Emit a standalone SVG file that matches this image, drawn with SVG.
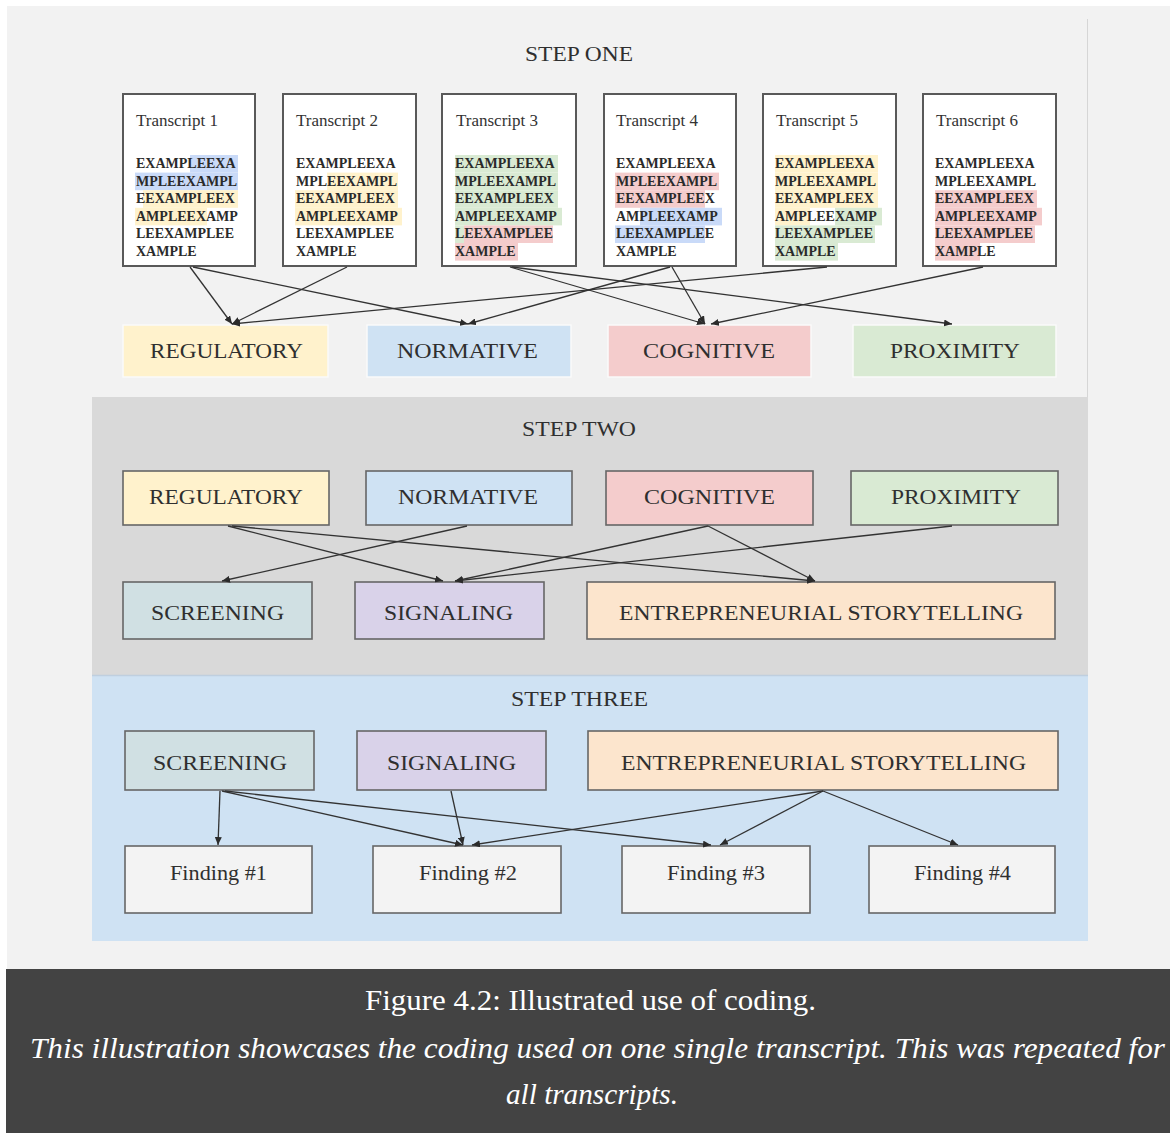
<svg xmlns="http://www.w3.org/2000/svg" width="1170" height="1133" viewBox="0 0 1170 1133">
  <defs>
    <marker id="arrow" markerUnits="userSpaceOnUse" markerWidth="9" markerHeight="7" refX="8" refY="3.5" orient="auto">
      <path d="M0,0 L8,3.5 L0,7 z" fill="#2b2b2b"/>
    </marker>
    <style>
      .lbl { font-family: "Liberation Serif", "Times New Roman", serif; font-size: 21px; fill: #2f2f2f; text-anchor: middle; }
      .head { font-family: "Liberation Serif", "Times New Roman", serif; font-size: 20px; fill: #2f2f2f; text-anchor: middle; }
      .find { font-family: "Liberation Serif", "Times New Roman", serif; font-size: 20px; fill: #2f2f2f; text-anchor: middle; }
      .ttl { font-family: "Liberation Serif", "Times New Roman", serif; font-size: 17px; fill: #333; }
      .code { font-family: "Liberation Serif", "Times New Roman", serif; font-size: 14px; font-weight: bold; fill: #2a2a2a; }
      .doc { fill: #ffffff; stroke: #595959; stroke-width: 2; }
      .box { stroke: #666666; stroke-width: 1.6; }
      .flat { stroke: #fafafa; stroke-width: 1.5; }
      .reg { fill: #fff2cc; } .norm { fill: #cfe2f3; } .cog { fill: #f4cccc; } .prox { fill: #d9ead3; }
      .scr { fill: #d0e0e3; } .sig { fill: #d9d2e9; } .ent { fill: #fce5cd; } .fnd { fill: #f3f3f3; }
      .hB { fill: #c9daf8; } .hY { fill: #fff2cc; } .hG { fill: #d9ead3; } .hP { fill: #f4cccc; }
      .conn line { stroke: #333333; stroke-width: 1.3; fill: none; marker-end: url(#arrow); }
      .cap { font-family: "Liberation Serif", "Times New Roman", serif; font-size: 30px; fill: #ffffff; text-anchor: middle; }
    </style>
  </defs>

  <!-- page and step panels -->
  <rect x="0" y="0" width="1170" height="1133" fill="#ffffff"/>
  <rect x="7" y="6" width="1163" height="963" fill="#f2f2f2"/>
  <line x1="1087.5" y1="19" x2="1087.5" y2="397" stroke="#d6d6d6" stroke-width="1"/>
  <rect x="92" y="397" width="996" height="278" fill="#d9d9d9"/>
  <rect x="92" y="675" width="996" height="266" fill="#cfe2f3"/>
  <line x1="92" y1="675.5" x2="1088" y2="675.5" stroke="#bfcfdf" stroke-width="1.5"/>

  <text class="head" x="579" y="61" textLength="108" lengthAdjust="spacingAndGlyphs">STEP ONE</text>
  <text class="head" x="579" y="436" textLength="114" lengthAdjust="spacingAndGlyphs">STEP TWO</text>
  <text class="head" x="579.5" y="706" textLength="137" lengthAdjust="spacingAndGlyphs">STEP THREE</text>

  <!-- Step one: transcripts with coded highlights -->
  <g id="transcript1">
    <rect class="doc" x="123" y="94" width="132" height="172"/>
    <rect class="hB" x="190" y="155" width="48" height="17.6"/>
    <rect class="hB" x="135" y="172.6" width="103" height="17.6"/>
    <rect class="hY" x="143" y="190.2" width="95" height="17.6"/>
    <rect class="hY" x="135" y="207.8" width="72" height="17.6"/>
    <text class="ttl" x="136" y="126">Transcript 1</text>
    <text class="code" x="136" y="168">EXAMPLEEXA</text>
    <text class="code" x="136" y="185.6">MPLEEXAMPL</text>
    <text class="code" x="136" y="203.2">EEXAMPLEEX</text>
    <text class="code" x="136" y="220.8">AMPLEEXAMP</text>
    <text class="code" x="136" y="238.4">LEEXAMPLEE</text>
    <text class="code" x="136" y="256">XAMPLE</text>
  </g>
  <g id="transcript2">
    <rect class="doc" x="283" y="94" width="133" height="172"/>
    <rect class="hY" x="327" y="172.6" width="71" height="17.6"/>
    <rect class="hY" x="295" y="190.2" width="103" height="17.6"/>
    <rect class="hY" x="295" y="207.8" width="107" height="17.6"/>
    <text class="ttl" x="296" y="126">Transcript 2</text>
    <text class="code" x="296" y="168">EXAMPLEEXA</text>
    <text class="code" x="296" y="185.6">MPLEEXAMPL</text>
    <text class="code" x="296" y="203.2">EEXAMPLEEX</text>
    <text class="code" x="296" y="220.8">AMPLEEXAMP</text>
    <text class="code" x="296" y="238.4">LEEXAMPLEE</text>
    <text class="code" x="296" y="256">XAMPLE</text>
  </g>
  <g id="transcript3">
    <rect class="doc" x="442" y="94" width="134" height="172"/>
    <rect class="hG" x="455" y="155" width="103" height="17.6"/>
    <rect class="hG" x="455" y="172.6" width="103" height="17.6"/>
    <rect class="hG" x="455" y="190.2" width="103" height="17.6"/>
    <rect class="hG" x="455" y="207.8" width="107" height="17.6"/>
    <rect class="hG" x="455" y="225.4" width="9" height="17.6"/>
    <rect class="hP" x="464" y="225.4" width="89" height="17.6"/>
    <rect class="hP" x="455" y="243" width="63" height="17.6"/>
    <text class="ttl" x="456" y="126">Transcript 3</text>
    <text class="code" x="455" y="168">EXAMPLEEXA</text>
    <text class="code" x="455" y="185.6">MPLEEXAMPL</text>
    <text class="code" x="455" y="203.2">EEXAMPLEEX</text>
    <text class="code" x="455" y="220.8">AMPLEEXAMP</text>
    <text class="code" x="455" y="238.4">LEEXAMPLEE</text>
    <text class="code" x="455" y="256">XAMPLE</text>
  </g>
  <g id="transcript4">
    <rect class="doc" x="604" y="94" width="132" height="172"/>
    <rect class="hP" x="615" y="172.6" width="104" height="17.6"/>
    <rect class="hP" x="615" y="190.2" width="90" height="17.6"/>
    <rect class="hB" x="640" y="207.8" width="82" height="17.6"/>
    <rect class="hB" x="615" y="225.4" width="90" height="17.6"/>
    <text class="ttl" x="616" y="126">Transcript 4</text>
    <text class="code" x="616" y="168">EXAMPLEEXA</text>
    <text class="code" x="616" y="185.6">MPLEEXAMPL</text>
    <text class="code" x="616" y="203.2">EEXAMPLEEX</text>
    <text class="code" x="616" y="220.8">AMPLEEXAMP</text>
    <text class="code" x="616" y="238.4">LEEXAMPLEE</text>
    <text class="code" x="616" y="256">XAMPLE</text>
  </g>
  <g id="transcript5">
    <rect class="doc" x="763" y="94" width="133" height="172"/>
    <rect class="hY" x="775" y="155" width="103" height="17.6"/>
    <rect class="hY" x="775" y="172.6" width="103" height="17.6"/>
    <rect class="hY" x="775" y="190.2" width="103" height="17.6"/>
    <rect class="hY" x="775" y="207.8" width="35" height="17.6"/>
    <rect class="hG" x="835" y="207.8" width="47" height="17.6"/>
    <rect class="hG" x="775" y="225.4" width="100" height="17.6"/>
    <rect class="hG" x="775" y="243" width="63" height="17.6"/>
    <text class="ttl" x="776" y="126">Transcript 5</text>
    <text class="code" x="775" y="168">EXAMPLEEXA</text>
    <text class="code" x="775" y="185.6">MPLEEXAMPL</text>
    <text class="code" x="775" y="203.2">EEXAMPLEEX</text>
    <text class="code" x="775" y="220.8">AMPLEEXAMP</text>
    <text class="code" x="775" y="238.4">LEEXAMPLEE</text>
    <text class="code" x="775" y="256">XAMPLE</text>
  </g>
  <g id="transcript6">
    <rect class="doc" x="923" y="94" width="133" height="172"/>
    <rect class="hP" x="935" y="190.2" width="102" height="17.6"/>
    <rect class="hP" x="935" y="207.8" width="107" height="17.6"/>
    <rect class="hP" x="935" y="225.4" width="100" height="17.6"/>
    <rect class="hP" x="935" y="243" width="45" height="17.6"/>
    <text class="ttl" x="936" y="126">Transcript 6</text>
    <text class="code" x="935" y="168">EXAMPLEEXA</text>
    <text class="code" x="935" y="185.6">MPLEEXAMPL</text>
    <text class="code" x="935" y="203.2">EEXAMPLEEX</text>
    <text class="code" x="935" y="220.8">AMPLEEXAMP</text>
    <text class="code" x="935" y="238.4">LEEXAMPLEE</text>
    <text class="code" x="935" y="256">XAMPLE</text>
  </g>

  <!-- Step one: code categories -->
  <g id="s1-regulatory">
    <rect class="flat reg" x="123" y="325" width="205" height="52"/>
    <text class="lbl" x="226.5" y="358" textLength="153" lengthAdjust="spacingAndGlyphs">REGULATORY</text>
  </g>
  <g id="s1-normative">
    <rect class="flat norm" x="367" y="325" width="204" height="52"/>
    <text class="lbl" x="467.5" y="358" textLength="141" lengthAdjust="spacingAndGlyphs">NORMATIVE</text>
  </g>
  <g id="s1-cognitive">
    <rect class="flat cog" x="608" y="325" width="203" height="52"/>
    <text class="lbl" x="709" y="358" textLength="132" lengthAdjust="spacingAndGlyphs">COGNITIVE</text>
  </g>
  <g id="s1-proximity">
    <rect class="flat prox" x="853" y="325" width="203" height="52"/>
    <text class="lbl" x="955" y="358" textLength="130" lengthAdjust="spacingAndGlyphs">PROXIMITY</text>
  </g>

  <!-- Step two -->
  <g id="s2-regulatory">
    <rect class="box reg" x="123" y="471" width="206" height="54"/>
    <text class="lbl" x="226" y="504" textLength="154" lengthAdjust="spacingAndGlyphs">REGULATORY</text>
  </g>
  <g id="s2-normative">
    <rect class="box norm" x="366" y="471" width="206" height="54"/>
    <text class="lbl" x="468" y="504" textLength="140" lengthAdjust="spacingAndGlyphs">NORMATIVE</text>
  </g>
  <g id="s2-cognitive">
    <rect class="box cog" x="606" y="471" width="207" height="54"/>
    <text class="lbl" x="709.5" y="504" textLength="131" lengthAdjust="spacingAndGlyphs">COGNITIVE</text>
  </g>
  <g id="s2-proximity">
    <rect class="box prox" x="851" y="471" width="207" height="54"/>
    <text class="lbl" x="956" y="504" textLength="130" lengthAdjust="spacingAndGlyphs">PROXIMITY</text>
  </g>
  <g id="s2-screening">
    <rect class="box scr" x="123" y="582" width="189" height="57"/>
    <text class="lbl" x="217.5" y="620" textLength="133" lengthAdjust="spacingAndGlyphs">SCREENING</text>
  </g>
  <g id="s2-signaling">
    <rect class="box sig" x="355" y="582" width="189" height="57"/>
    <text class="lbl" x="448.5" y="620" textLength="129" lengthAdjust="spacingAndGlyphs">SIGNALING</text>
  </g>
  <g id="s2-storytelling">
    <rect class="box ent" x="587" y="582" width="468" height="57"/>
    <text class="lbl" x="821" y="620" textLength="404" lengthAdjust="spacingAndGlyphs">ENTREPRENEURIAL STORYTELLING</text>
  </g>

  <!-- Step three -->
  <g id="s3-screening">
    <rect class="box scr" x="125" y="731" width="189" height="59"/>
    <text class="lbl" x="220" y="770" textLength="134" lengthAdjust="spacingAndGlyphs">SCREENING</text>
  </g>
  <g id="s3-signaling">
    <rect class="box sig" x="357" y="731" width="189" height="59"/>
    <text class="lbl" x="451.5" y="770" textLength="129" lengthAdjust="spacingAndGlyphs">SIGNALING</text>
  </g>
  <g id="s3-storytelling">
    <rect class="box ent" x="588" y="731" width="470" height="59"/>
    <text class="lbl" x="823.5" y="770" textLength="405" lengthAdjust="spacingAndGlyphs">ENTREPRENEURIAL STORYTELLING</text>
  </g>
  <g id="finding1">
    <rect class="box fnd" x="125" y="846" width="187" height="67"/>
    <text class="find" x="218.5" y="880" textLength="97" lengthAdjust="spacingAndGlyphs">Finding #1</text>
  </g>
  <g id="finding2">
    <rect class="box fnd" x="373" y="846" width="188" height="67"/>
    <text class="find" x="468" y="880" textLength="98" lengthAdjust="spacingAndGlyphs">Finding #2</text>
  </g>
  <g id="finding3">
    <rect class="box fnd" x="622" y="846" width="188" height="67"/>
    <text class="find" x="716" y="880" textLength="98" lengthAdjust="spacingAndGlyphs">Finding #3</text>
  </g>
  <g id="finding4">
    <rect class="box fnd" x="869" y="846" width="186" height="67"/>
    <text class="find" x="962.5" y="880" textLength="97" lengthAdjust="spacingAndGlyphs">Finding #4</text>
  </g>

  <!-- connectors -->
  <g id="connectors" class="conn">
    <!-- transcripts to categories -->
    <line x1="190" y1="267" x2="232" y2="324"/>
    <line x1="193" y1="267" x2="468" y2="324"/>
    <line x1="347" y1="267" x2="232" y2="324"/>
    <line x1="827" y1="267" x2="232" y2="324"/>
    <line x1="670" y1="267" x2="468" y2="324"/>
    <line x1="510" y1="267" x2="705" y2="324"/>
    <line x1="512" y1="267" x2="952" y2="324"/>
    <line x1="672" y1="267" x2="705" y2="324"/>
    <line x1="983" y1="267" x2="711" y2="324"/>
    <!-- categories to mechanisms -->
    <line x1="228" y1="526" x2="443" y2="581"/>
    <line x1="232" y1="526" x2="815" y2="581"/>
    <line x1="467" y1="526" x2="222" y2="581"/>
    <line x1="708" y1="526" x2="455" y2="581"/>
    <line x1="708" y1="526" x2="815" y2="581"/>
    <line x1="952" y1="526" x2="455" y2="581"/>
    <!-- mechanisms to findings -->
    <line x1="220" y1="791" x2="218" y2="845"/>
    <line x1="222" y1="791" x2="463" y2="845"/>
    <line x1="225" y1="791" x2="711" y2="845"/>
    <line x1="451" y1="791" x2="463" y2="845"/>
    <line x1="823" y1="791" x2="472" y2="845"/>
    <line x1="823" y1="791" x2="720" y2="845"/>
    <line x1="823" y1="791" x2="958" y2="845"/>
  </g>

  <!-- caption -->
  <rect x="6" y="969" width="1164" height="164" fill="#434343"/>
  <text class="cap" x="590.5" y="1010" textLength="451" lengthAdjust="spacingAndGlyphs">Figure 4.2: Illustrated use of coding.</text>
  <text class="cap" x="597.5" y="1058" font-style="italic" textLength="1135" lengthAdjust="spacingAndGlyphs">This illustration showcases the coding used on one single transcript. This was repeated for</text>
  <text class="cap" x="592" y="1104" font-style="italic" textLength="172" lengthAdjust="spacingAndGlyphs">all transcripts.</text>
</svg>
